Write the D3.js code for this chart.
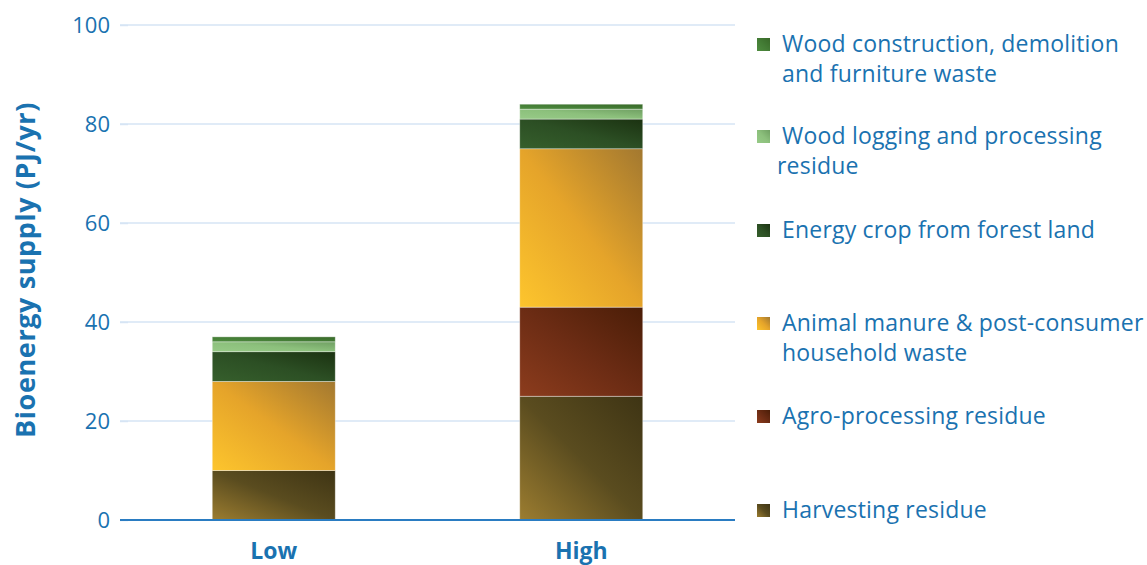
<!DOCTYPE html>
<html><head><meta charset="utf-8">
<script src="https://cdn.jsdelivr.net/npm/d3@7"></script>
<style>body{margin:0;background:#fff}svg{display:block}text{font-family:"Open Sans",sans-serif}</style>
</head><body><svg id="c" width="1147" height="565"></svg>
<script>
const categories = ["Low", "High"];
const seriesNames = ["Harvesting residue", "Agro-processing residue", "Animal manure & post-consumer household waste", "Energy crop from forest land", "Wood logging and processing residue", "Wood construction, demolition and furniture waste"];
const lowValues = [10, 0, 18, 6, 2, 1];
const highValues = [25, 18, 32, 6, 2, 1];
const yTicks = [0, 20, 40, 60, 80, 100];
const legendLines = [["Wood construction, demolition", "and furniture waste"], ["Wood logging and processing", "residue"], ["Energy crop from forest land"], ["Animal manure & post-consumer", "household waste"], ["Agro-processing residue"], ["Harvesting residue"]];
const colors = [
  ["#9c7d30", "#5a4c1f", "#3e3414"],
  ["#8c3c1d", "#6c2c14", "#4a1d07"],
  ["#fdc52d", "#e5a42a", "#a27830"],
  ["#365f2c", "#2c4f24", "#1b3211"],
  ["#97ca87", "#8cc07c", "#6f9f62"],
  ["#4f8c3f", "#437c35", "#386828"]
];

const svg = d3.select("#c");
const blue = "#1a72b0";
const x = d3.scaleBand().domain(categories).range([120, 735]).paddingInner(0.6).paddingOuter(0.3);
const y = d3.scaleLinear().domain([0, 100]).range([520, 25]);

const defs = svg.append("defs");
colors.forEach((c, i) => {
  const g = defs.append("linearGradient").attr("id", "g" + i)
    .attr("x1", 0).attr("y1", 1).attr("x2", 1).attr("y2", 0);
  g.append("stop").attr("offset", "0%").attr("stop-color", c[0]);
  g.append("stop").attr("offset", "50%").attr("stop-color", c[1]);
  g.append("stop").attr("offset", "100%").attr("stop-color", c[2]);
});

// gridlines
svg.append("g").selectAll("line").data(yTicks.filter(d => d > 0)).join("line")
  .attr("x1", 120).attr("x2", 735).attr("y1", d => y(d)).attr("y2", d => y(d))
  .attr("stroke", "#d6e4f4").attr("stroke-width", 1.5);

// y axis
const ya = svg.append("g").attr("transform", "translate(128,0)")
  .call(d3.axisLeft(y).tickValues(yTicks).tickSize(8).tickPadding(10));
ya.select(".domain").remove();
ya.selectAll(".tick line").attr("stroke", "#d6e4f4").attr("stroke-width", 1.5);
ya.selectAll(".tick text").attr("fill", blue).style("font-size", "22px").style("font-family", "Open Sans");

// stacks
const data = categories.map((c, i) => {
  const vals = i === 0 ? lowValues : highValues;
  const o = {cat: c};
  seriesNames.forEach((s, j) => o[s] = vals[j]);
  return o;
});
const stack = d3.stack().keys(seriesNames)(data);
svg.append("g").selectAll("g").data(stack).join("g")
  .attr("fill", (d, i) => `url(#g${i})`)
  .selectAll("rect").data(d => d.filter(p => p[1] - p[0] > 0)).join("rect")
  .attr("x", d => x(d.data.cat)).attr("width", x.bandwidth())
  .attr("y", d => y(d[1])).attr("height", d => y(d[0]) - y(d[1]))
  .attr("stroke", "rgba(255,255,255,0.45)").attr("stroke-width", 0.8);

// x axis
svg.append("line").attr("x1", 120).attr("x2", 735).attr("y1", 520).attr("y2", 520)
  .attr("stroke", "#2a7cc2").attr("stroke-width", 2);
svg.append("g").selectAll("text").data(categories).join("text")
  .attr("x", d => x(d) + x.bandwidth() / 2).attr("y", 559)
  .attr("text-anchor", "middle").attr("fill", blue)
  .style("font-size", "23px").style("font-weight", "bold").text(d => d);

// y title
svg.append("text").attr("transform", "translate(35,270) rotate(-90)")
  .attr("text-anchor", "middle").attr("fill", blue)
  .style("font-size", "27px").style("font-weight", "bold").style("letter-spacing", "0.6px")
  .text("Bioenergy supply (PJ/yr)");

// legend
const legY = [44, 136, 230, 323, 416, 510];
const legendOrder = [5, 4, 3, 2, 1, 0];
const lg = svg.append("g");
legendOrder.forEach((si, k) => {
  const yy = legY[k];
  lg.append("rect").attr("x", 757).attr("y", yy - 6).attr("width", 13).attr("height", 13)
    .attr("fill", `url(#g${si})`);
  legendLines[k].forEach((ln, li) => {
    lg.append("text").attr("x", li > 0 && k === 1 ? 777 : 782).attr("y", yy + 8 + li * 30)
      .attr("fill", blue).style("font-size", "23px").style("letter-spacing", "0.2px").text(ln);
  });
});
</script></body></html>
